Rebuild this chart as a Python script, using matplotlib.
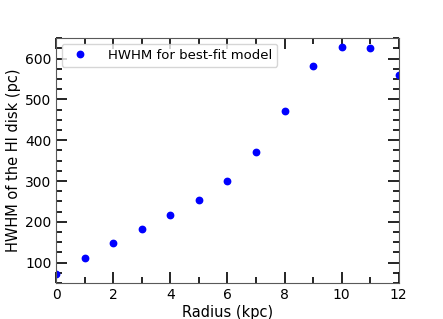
import numpy as np
import matplotlib.pyplot as plt
from matplotlib.ticker import MultipleLocator

# Data
radius = [0, 1, 2, 3, 4, 5, 6, 7, 8, 9, 10, 11, 12]
hwhm = [71, 112, 148, 182, 217, 253, 300, 372, 472, 581, 629, 626, 561]

fig, ax = plt.subplots(figsize=(4.43, 3.19), dpi=100)
fig.subplots_adjust(left=0.127, right=0.9, top=0.88, bottom=0.113)

ax.plot(radius, hwhm, 'o', color='blue', markersize=4.6, label='HWHM for best-fit model')

ax.set_xlim(0, 12)
ax.set_ylim(50, 650)
ax.xaxis.set_major_locator(MultipleLocator(2))
ax.xaxis.set_minor_locator(MultipleLocator(1))
ax.yaxis.set_major_locator(MultipleLocator(100))
ax.yaxis.set_minor_locator(MultipleLocator(25))
ax.tick_params(which='both', direction='in', top=True, right=True, width=1.2)
ax.tick_params(which='major', length=8, labelsize=10)
ax.tick_params(which='minor', length=4)
for s in ax.spines.values():
    s.set_color('0.35')

ax.set_xlabel('Radius (kpc)', fontsize=10.5, labelpad=2)
ax.set_ylabel('HWHM of the HI disk (pc)', fontsize=10.5, labelpad=3)
ax.legend(loc='upper left', fontsize=9.5, numpoints=1, handletextpad=1.1,
          borderaxespad=0.4)

plt.savefig('out.png')
